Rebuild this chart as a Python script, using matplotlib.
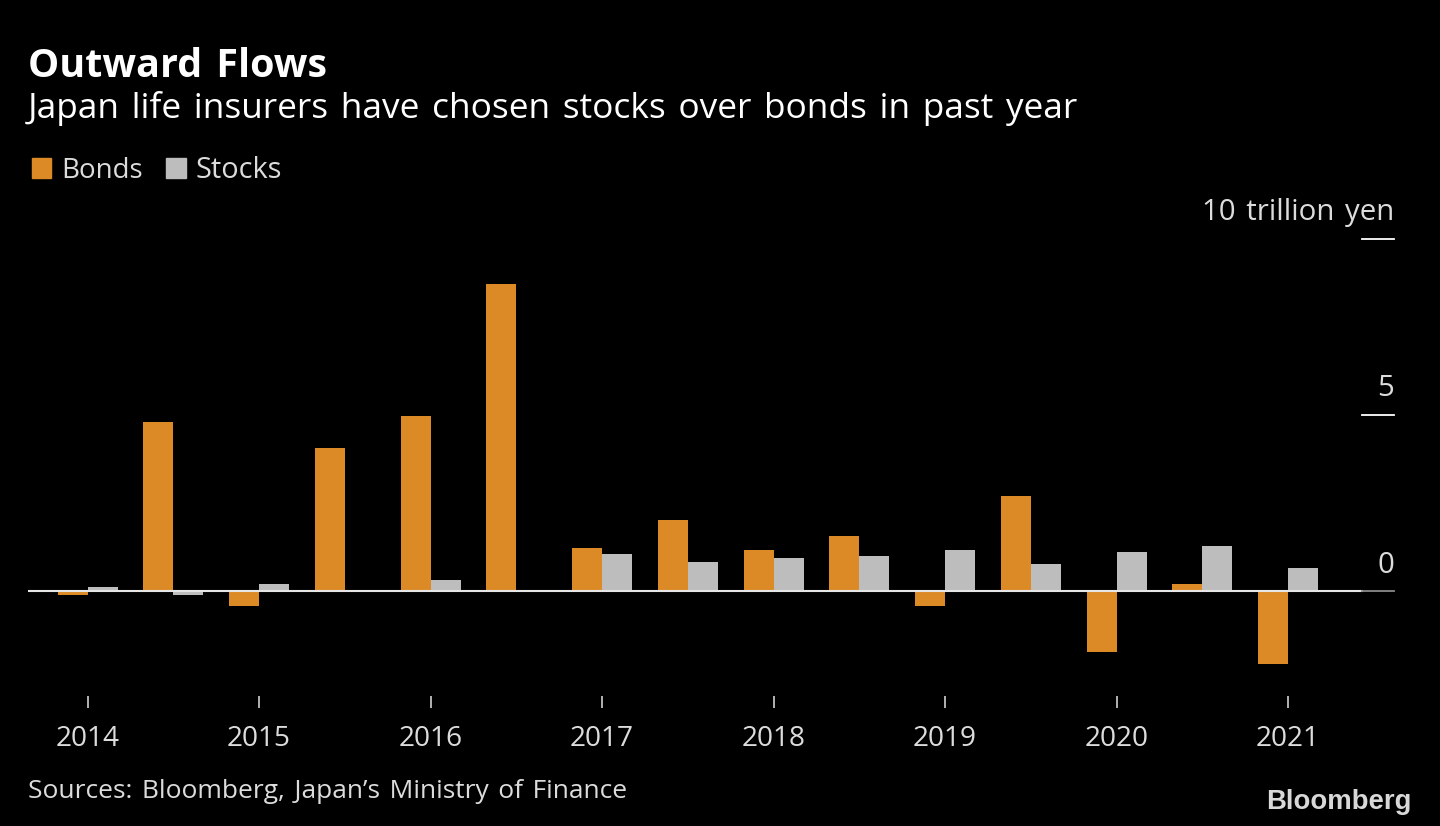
import numpy as np
import matplotlib
matplotlib.use("Agg")
import matplotlib.pyplot as plt
from matplotlib.patches import Rectangle

years = ["2014", "2015", "2016", "2017", "2018", "2019", "2020", "2021"]
# half-year periods, trillion yen
bonds = [-0.1, 4.8, -0.43, 4.05, 4.97, 8.72, 1.22, 2.0, 1.17, 1.56, -0.43, 2.7, -1.74, 0.2, -2.07]
stocks = [0.1, -0.1, 0.2, 0.0, 0.31, 0.0, 1.05, 0.83, 0.94, 1.0, 1.17, 0.77, 1.11, 1.28, 0.65]

BG = "#000000"
ORANGE = "#dc8a26"
GREY = "#bdbdbd"
TEXT = "#dcdcdc"
SP = " \u200a"  # the original font has wide word gaps


def spaced(s):
    return s.replace(" ", SP)


plt.rcParams["font.family"] = ["Open Sans", "DejaVu Sans"]

fig = plt.figure(figsize=(14.4, 8.26), dpi=100, facecolor=BG)

# axes spans pixel x 28..1394, y 238.5..696
ax = fig.add_axes([28 / 1440, 1 - 696 / 826, (1394 - 28) / 1440, (696 - 238.5) / 826])
ax.set_facecolor(BG)

x = np.arange(len(bonds))
w = 0.35
ax.bar(x - w / 2, bonds, w, color=ORANGE)
ax.bar(x + w / 2, stocks, w, color=GREY)

ax.plot([0, (1362 - 28) / (1394 - 28)], [0, 0], transform=ax.get_yaxis_transform(), color="#e6e6e6", lw=1.5)

ax.set_ylim(-2.979, 10)
ax.set_xlim(-0.695, 15.235)

for s in ax.spines.values():
    s.set_visible(False)
ax.set_yticks([])
ax.set_xticks(x[::2])
ax.set_xticklabels(years, fontsize=20.2, color=TEXT)
ax.tick_params(axis="x", length=8.6, width=1.2, color="#d0d0d0", pad=12.5, direction="out")

for v, lab, col in zip([10, 5, 0], ["10 trillion yen", "5", "0"], ["white", "white", "#8a8a8a"]):
    ax.plot([(1362 - 28) / (1394 - 28), 1.0], [v, v], transform=ax.get_yaxis_transform(), color=col, lw=1.3, clip_on=False)
    ax.text(1.0, v + 0.52, spaced(lab), transform=ax.get_yaxis_transform(), ha="right", va="baseline", fontsize=21.2, color=TEXT)

fig.text(28 / 1440, 1 - 77 / 826, spaced("Outward Flows"), fontsize=28.4, fontweight="bold", color="white")
fig.text(28 / 1440, 1 - 118 / 826, spaced("Japan life insurers have chosen stocks over bonds in past year"), fontsize=25.4, color="white")

fig.add_artist(Rectangle((32 / 1440, 1 - 178 / 826), 19 / 1440, 20 / 826, transform=fig.transFigure, color=ORANGE))
fig.add_artist(Rectangle((166 / 1440, 1 - 178 / 826), 20 / 1440, 20 / 826, transform=fig.transFigure, color=GREY))
fig.text(61 / 1440, 1 - 178 / 826, "Bonds", fontsize=20, color=TEXT)
fig.text(196 / 1440, 1 - 178 / 826, "Stocks", fontsize=20.8, color=TEXT)

fig.text(28 / 1440, 1 - 798 / 826, spaced("Sources: Bloomberg, Japan\u2019s Ministry of Finance"), fontsize=19, color=TEXT)
fig.text(1412 / 1440, 1 - 809 / 826, "Bloomberg", fontsize=19.8, fontweight="bold", color="#d8d8d8", ha="right", family="Liberation Sans")

fig.savefig("out.png", dpi=100, facecolor=BG)
